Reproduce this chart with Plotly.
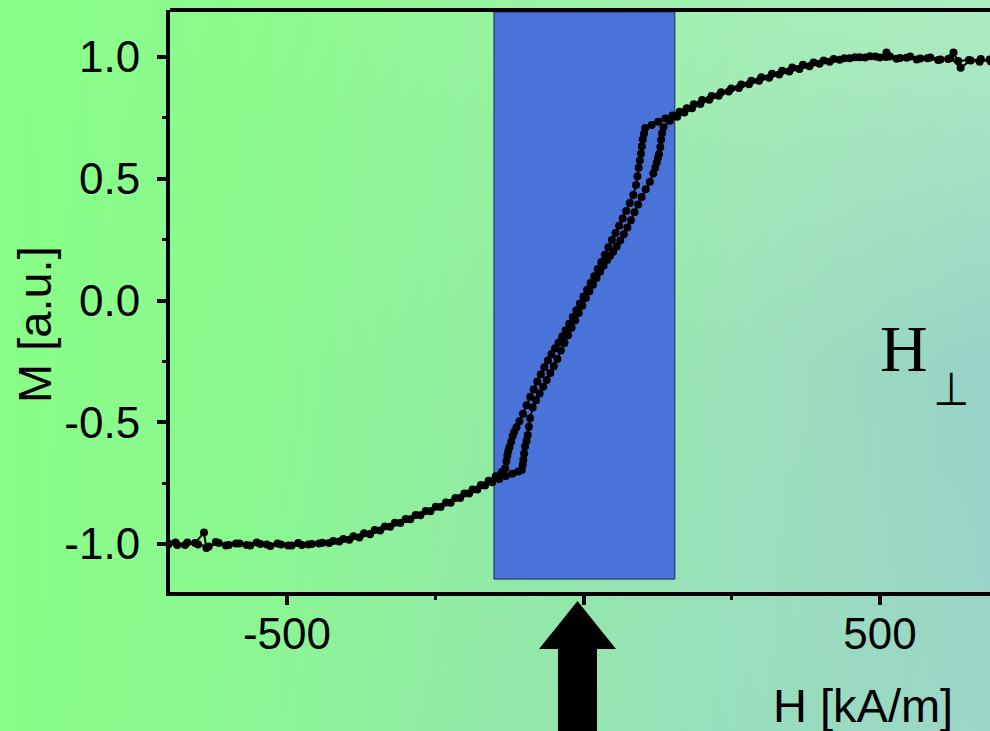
import base64
import struct
import zlib

import plotly.graph_objects as go

# ---------------- data ----------------
# descending branch (from +H saturation to -H saturation)
H_desc = [700, 685, 668, 650, 632, 624, 615, 598, 580, 562, 545, 528, 510, 492, 475, 458,
          440, 422, 405, 388, 370, 352, 335, 318, 300, 283, 266, 249, 232, 216, 200,
          186, 174, 162, 150, 138, 126, 115, 104,
          102, 100, 98.5, 97, 95, 93, 91, 88.5, 84,
          78, 72, 66, 60, 54, 48, 42, 36, 30, 24, 18, 12, 6, 0, -6, -12, -18, -24,
          -30, -36, -42, -48, -54, -60, -66, -72, -78, -84, -90, -96, -102, -108,
          -113, -117,
          -119.5, -122, -125, -127, -128.5, -130, -132,
          -138, -148, -160, -173, -187, -201, -216, -232, -249, -266, -283, -300,
          -318, -335, -352, -370, -388, -405, -422, -440, -458, -475, -492, -510,
          -528, -545, -562, -580, -598, -615, -632, -650, -668, -685, -700]
M_desc = [0.986, 0.990, 0.980, 0.988, 0.984, 1.018, 0.992, 0.988, 0.995, 0.990, 0.997, 0.993,
          1.000, 1.002, 0.998, 0.999,
          0.995, 0.992, 0.986, 0.977, 0.968, 0.957, 0.944, 0.931, 0.917, 0.902, 0.887,
          0.871, 0.855, 0.840, 0.823,
          0.806, 0.790, 0.775, 0.760, 0.747, 0.734, 0.721, 0.708,
          0.685, 0.662, 0.633, 0.604, 0.575, 0.545, 0.510, 0.474, 0.433,
          0.400, 0.368, 0.337, 0.307, 0.277, 0.248, 0.219, 0.188, 0.158, 0.129, 0.100,
          0.072, 0.044, 0.016, -0.012, -0.040, -0.068, -0.095,
          -0.122, -0.148, -0.172, -0.196, -0.220, -0.246, -0.274, -0.303, -0.333,
          -0.364, -0.395, -0.430, -0.465, -0.496,
          -0.520, -0.540,
          -0.556, -0.580, -0.603, -0.620, -0.639, -0.660, -0.689,
          -0.705, -0.722, -0.740, -0.758, -0.776, -0.793, -0.811, -0.829, -0.847,
          -0.864, -0.881, -0.897,
          -0.913, -0.928, -0.942, -0.956, -0.968, -0.979, -0.988, -0.995, -1.000,
          -1.004, -1.006, -1.002,
          -1.008, -1.000, -1.006, -0.998, -1.004, -0.996, -1.010, -1.002, -0.994,
          -1.004, -0.998]

# ascending branch (from -H saturation to +H saturation)
H_asc = [-700, -688, -672, -655, -640, -636, -620, -603, -586, -568, -551, -534, -516,
         -498, -481, -464, -446, -429, -412, -395, -378, -360, -343, -326, -309, -292,
         -275, -258, -241, -224, -208, -193, -179, -166, -154, -142, -131, -120, -110,
         -104,
         -102.5, -101.5, -100, -98.6, -96, -94, -92, -90, -85.7,
         -80, -74, -68, -62, -56, -50, -44, -38, -32, -26, -20, -14, -8, -2, 4, 10,
         16, 22, 28, 34, 40, 45, 50, 56, 62, 68, 74, 80, 86, 92, 98, 105, 112,
         117.7, 121, 123.4, 125.5, 127.3, 129.5, 131, 132.5, 135,
         146, 158, 170, 183, 197, 212, 228, 245, 262, 279, 296, 313, 330, 347, 364,
         381, 398, 415, 432, 449, 466, 483, 500, 511, 517, 534, 551, 568, 585, 602,
         619, 636, 653, 670, 687, 700]
M_asc = [-1.002, -0.994, -1.004, -0.996, -0.953, -1.016, -0.992, -1.006, -0.998, -1.004,
         -0.994, -1.002, -0.998, -1.006, -0.996, -1.002, -0.998, -0.996, -0.990, -0.982,
         -0.973, -0.960, -0.944, -0.929, -0.914, -0.898, -0.882, -0.865, -0.848, -0.830,
         -0.811, -0.793, -0.776, -0.760, -0.746, -0.733, -0.721, -0.711, -0.702,
         -0.696,
         -0.675, -0.655, -0.628, -0.600, -0.576, -0.552, -0.518, -0.484, -0.439,
         -0.410, -0.382, -0.354, -0.326, -0.298, -0.270, -0.240, -0.205, -0.174,
         -0.143, -0.112, -0.081, -0.051, -0.021, 0.010, 0.038,
         0.065, 0.092, 0.118, 0.143, 0.166, 0.184, 0.200, 0.222, 0.246, 0.272, 0.300,
         0.330, 0.362, 0.394, 0.425, 0.457, 0.488,
         0.522, 0.545, 0.566, 0.585, 0.602, 0.630, 0.660, 0.687, 0.712,
         0.738, 0.755, 0.772, 0.790, 0.807, 0.824, 0.841, 0.858, 0.873, 0.888, 0.902,
         0.915, 0.928, 0.940, 0.951, 0.962, 0.972, 0.981, 0.989, 0.995, 0.999, 1.003,
         0.998, 1.018, 1.002, 0.996, 1.002, 0.994, 0.998, 0.990, 0.996, 0.956, 0.986,
         0.992, 0.982, 0.988]

# highlighted field window (kA/m) and its vertical extent (a.u.)
window_H = [-151, 154]
window_M = [-1.144, 1.185]

x_ticks = [-500, 0, 500]
x_tick_text = ["-500", "", "500"]
x_minor = [-250, 250]
y_ticks = [-1.0, -0.5, 0.0, 0.5, 1.0]
y_tick_text = ["-1.0", "-0.5", "0.0", "0.5", "1.0"]
y_minor = [-0.75, -0.25, 0.25, 0.75]

x_title = "H [kA/m]"
y_title = "M [a.u.]"

# ---------------- figure geometry ----------------
W, H = 990, 731
ML, MT, MR, MB = 170, 10, 0, 139
PW, PH = W - ML - MR, H - MT - MB


def px_to_paper(px, py):
    return (px - ML) / PW, (H - MB - py) / PH


# ---------------- background gradient image ----------------
ctrl_x = [0, 250, 500, 750, 990]
ctrl_y = [0, 365, 731]
ctrl_c = [
    [(136, 255, 136), (141, 251, 141), (152, 245, 160), (165, 238, 182), (172, 238, 194)],
    [(136, 255, 136), (139, 248, 143), (146, 236, 162), (156, 224, 186), (152, 210, 200)],
    [(136, 255, 136), (140, 246, 148), (146, 232, 170), (152, 222, 190), (156, 214, 200)],
]


def interp_color(px, py):
    i = 0
    while i < len(ctrl_x) - 2 and px > ctrl_x[i + 1]:
        i += 1
    j = 0
    while j < len(ctrl_y) - 2 and py > ctrl_y[j + 1]:
        j += 1
    tx = (px - ctrl_x[i]) / (ctrl_x[i + 1] - ctrl_x[i])
    ty = (py - ctrl_y[j]) / (ctrl_y[j + 1] - ctrl_y[j])
    out = []
    for k in range(3):
        c00 = ctrl_c[j][i][k]
        c10 = ctrl_c[j][i + 1][k]
        c01 = ctrl_c[j + 1][i][k]
        c11 = ctrl_c[j + 1][i + 1][k]
        top = c00 + (c10 - c00) * tx
        bot = c01 + (c11 - c01) * tx
        out.append(int(round(top + (bot - top) * ty)))
    return out


def make_png(w, h):
    raw = bytearray()
    for r in range(h):
        raw.append(0)
        py = r * (H - 1) / (h - 1)
        for c in range(w):
            px = c * (W - 1) / (w - 1)
            raw.extend(interp_color(px, py))

    def chunk(tag, data):
        return (struct.pack(">I", len(data)) + tag + data
                + struct.pack(">I", zlib.crc32(tag + data) & 0xFFFFFFFF))

    png = b"\x89PNG\r\n\x1a\n"
    png += chunk(b"IHDR", struct.pack(">IIBBBBB", w, h, 8, 2, 0, 0, 0))
    png += chunk(b"IDAT", zlib.compress(bytes(raw), 9))
    png += chunk(b"IEND", b"")
    return "data:image/png;base64," + base64.b64encode(png).decode()


bg_uri = make_png(198, 146)

# ---------------- traces ----------------
fig = go.Figure()

style = dict(mode="lines+markers",
             line=dict(color="black", width=2),
             marker=dict(color="black", size=8),
             showlegend=False, hoverinfo="skip")
fig.add_trace(go.Scatter(x=H_desc, y=M_desc, **style))
fig.add_trace(go.Scatter(x=H_asc, y=M_asc, **style))

# highlighted window
fig.add_shape(type="rect", xref="x", yref="y",
              x0=window_H[0], x1=window_H[1], y0=window_M[0], y1=window_M[1],
              fillcolor="#4a73d9", line=dict(color="#1c2a55", width=1), layer="below")

# up arrow below the axis
arrow_px = [(577.5, 601), (616, 649), (597, 649), (597, 745), (558, 745), (558, 649), (539, 649)]
pts = [px_to_paper(a, b) for a, b in arrow_px]
path = "M " + " L ".join(f"{x:.5f},{y:.5f}" for x, y in pts) + " Z"
fig.add_shape(type="path", xref="paper", yref="paper", path=path,
              fillcolor="black", line=dict(color="black", width=0), layer="above")

# top frame line
fig.add_shape(type="line", xref="paper", yref="paper", x0=0, x1=1.01, y0=1, y1=1,
              line=dict(color="black", width=4), layer="above")

fig.add_layout_image(dict(source=bg_uri, xref="paper", yref="paper",
                          x=-ML / PW, y=1 + MT / PH, sizex=W / PW, sizey=H / PH,
                          xanchor="left", yanchor="top", sizing="stretch", layer="below"))

font_main = "Liberation Sans, Arial, sans-serif"

ax, ay = px_to_paper(863, 705)
fig.add_annotation(text=x_title, xref="paper", yref="paper", x=ax, y=ay,
                   xanchor="center", yanchor="middle", showarrow=False,
                   font=dict(family=font_main, size=47, color="black"))
ax, ay = px_to_paper(34, 325)
fig.add_annotation(text=y_title, xref="paper", yref="paper", x=ax, y=ay, textangle=-90,
                   xanchor="center", yanchor="middle", showarrow=False,
                   font=dict(family=font_main, size=47, color="black"))

ax, ay = px_to_paper(904, 349)
fig.add_annotation(text="H", xref="paper", yref="paper", x=ax, y=ay,
                   xanchor="center", yanchor="middle", showarrow=False,
                   font=dict(family="Liberation Serif, serif", size=66, color="black"))
ax, ay = px_to_paper(951, 389)
fig.add_annotation(text="⊥", xref="paper", yref="paper", x=ax, y=ay,
                   xanchor="center", yanchor="middle", showarrow=False,
                   font=dict(family="DejaVu Sans Condensed, DejaVu Sans, sans-serif",
                             size=46, color="black"))

fig.update_layout(
    width=W, height=H,
    margin=dict(l=ML, r=MR, t=MT, b=MB, pad=0),
    paper_bgcolor="#93eaa8",
    plot_bgcolor="rgba(0,0,0,0)",
    font=dict(family=font_main, color="black"),
)

fig.update_xaxes(range=[-697.3, 685.5], showgrid=False, zeroline=False,
                 showline=True, linecolor="black", linewidth=4,
                 ticks="outside", ticklen=9, tickwidth=4, tickcolor="black",
                 tickvals=x_ticks, ticktext=x_tick_text,
                 tickfont=dict(family=font_main, size=44, color="black"),
                 ticklabelstandoff=-9,
                 minor=dict(tickvals=x_minor, ticks="outside", ticklen=4, tickwidth=3,
                            tickcolor="black", showgrid=False))
fig.update_yaxes(range=[-1.197, 1.193], showgrid=False, zeroline=False,
                 showline=True, linecolor="black", linewidth=4,
                 ticks="outside", ticklen=9, tickwidth=4, tickcolor="black",
                 tickvals=y_ticks, ticktext=y_tick_text,
                 tickfont=dict(family=font_main, size=44, color="black"),
                 ticklabelstandoff=8,
                 minor=dict(tickvals=y_minor, ticks="outside", ticklen=4, tickwidth=3,
                            tickcolor="black", showgrid=False))

fig.write_html("out.html")
